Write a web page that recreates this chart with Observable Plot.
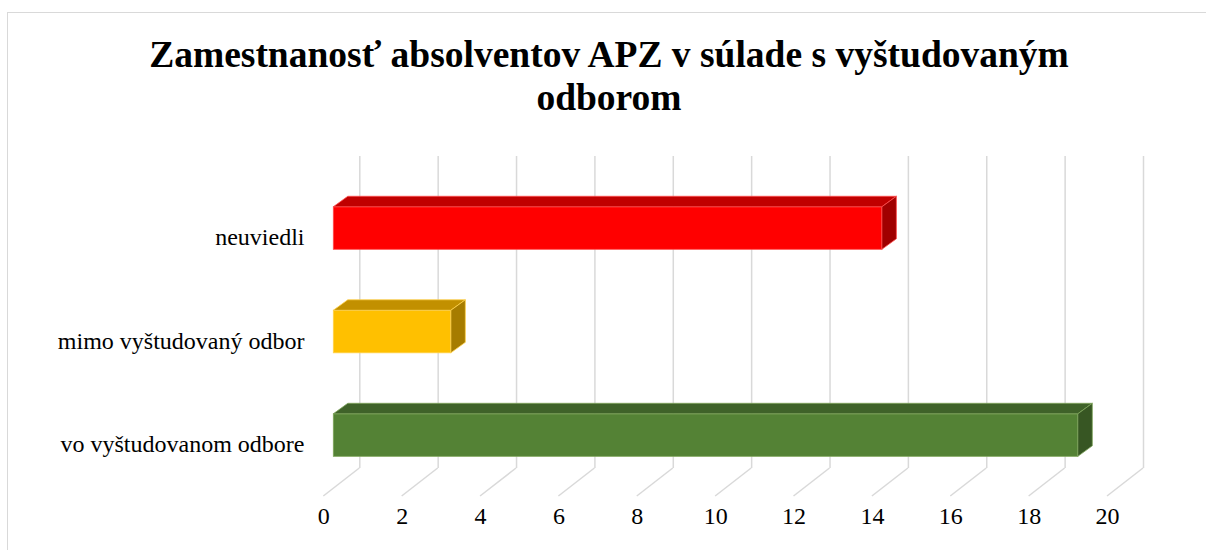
<!DOCTYPE html>
<html>
<head>
<meta charset="utf-8">
<script src="https://cdn.jsdelivr.net/npm/d3@7"></script>
<script src="https://cdn.jsdelivr.net/npm/@observablehq/plot@0.6"></script>
<style>
  html, body { margin: 0; padding: 0; background: #fff; width: 1206px; height: 550px; overflow: hidden; }
  #frame { position: absolute; left: 7px; top: 12px; width: 1220px; height: 560px; border: 1px solid #d9d9d9; box-sizing: border-box; }
  #title { position: absolute; left: 0; top: 33px; width: 1218px; text-align: center; font-family: "Liberation Serif", "Times New Roman", serif; font-weight: bold; font-size: 37.5px; line-height: 43px; color: #000; }
  #title span { display: inline-block; width: 960px; }
  #chart { position: absolute; left: 0; top: 140px; }
</style>
</head>
<body>
<div id="frame"></div>
<div id="title"><span></span></div>
<div id="chart"></div>
<script>
// ---- data ----
const titleText = "Zamestnanosť absolventov APZ v súlade s vyštudovaným odborom";
const categories = ["neuviedli", "mimo vyštudovaný odbor", "vo vyštudovanom odbore"];
const values = [14, 3, 19];
const frontColors = ["#FF0000", "#FFC000", "#548235"];
const topColors = ["#C00000", "#C29000", "#3F6229"];
const sideColors = ["#A00000", "#A67C00", "#375623"];
const edgeColors = ["#FF4D4D", "#FFD24D", "#7FA65C"];
const xTicks = [0, 2, 4, 6, 8, 10, 12, 14, 16, 18, 20];

document.querySelector("#title span").textContent = titleText;

const data = categories.map((c, i) => ({
  category: c, value: values[i],
  front: frontColors[i], top: topColors[i], side: sideColors[i], edge: edgeColors[i]
}));

// 3D styling offsets (pixels)
const BAR_DX = 10;     // bar front face offset from floor front
const DEPTH_X = 14.5;  // bar depth
const DEPTH_Y = 10.5;
const WALL_DX = 36;    // back wall offset
const FLOOR_BACK = 328, FLOOR_FRONT = 356;
const grid = "#d9d9d9";

function floorLines(index, {x}) {
  const g = d3.create("svg:g").attr("stroke", grid).attr("stroke-width", 1.5).attr("fill", "none");
  for (const t of xTicks) {
    g.append("line")
      .attr("x1", x(t) + WALL_DX).attr("y1", FLOOR_BACK)
      .attr("x2", x(t)).attr("y2", FLOOR_FRONT);
  }
  return g.node();
}

function barDepth(index, {x, y}) {
  const bw = typeof y.bandwidth === "function" ? y.bandwidth() : y.bandwidth;
  const g = d3.create("svg:g").attr("stroke-width", 0.8).attr("stroke-linejoin", "round");
  for (const d of data) {
    const x0 = x(0) + BAR_DX, x1 = x(d.value) + BAR_DX;
    const yt = y(d.category), yb = yt + bw;
    g.append("polygon")
      .attr("points", [[x0, yt], [x0 + DEPTH_X, yt - DEPTH_Y], [x1 + DEPTH_X, yt - DEPTH_Y], [x1, yt]].map(p => p.join(",")).join(" "))
      .attr("fill", d.top).attr("stroke", d.edge);
    g.append("polygon")
      .attr("points", [[x1, yt], [x1 + DEPTH_X, yt - DEPTH_Y], [x1 + DEPTH_X, yb - DEPTH_Y], [x1, yb]].map(p => p.join(",")).join(" "))
      .attr("fill", d.side).attr("stroke", d.edge);
  }
  return g.node();
}

const chart = Plot.plot({
  width: 1206,
  height: 410,
  marginTop: 16,
  marginBottom: 27,
  marginLeft: 304,
  marginRight: 0,
  x: { domain: [0, 20], range: [323.3, 1107], axis: null },
  y: { domain: categories, range: [5.8, 377.3], padding: 0.589, round: false, axis: null },
  style: { fontFamily: "'Liberation Serif', 'Times New Roman', serif", background: "transparent", overflow: "visible" },
  marks: [
    Plot.ruleX(xTicks, { x: d => d, dx: WALL_DX, stroke: grid, strokeWidth: 1.5, insetBottom: 55 }),
    floorLines,
    Plot.barX(data, { y: "category", x: "value", fill: "front", stroke: "edge", strokeWidth: 0.8, dx: BAR_DX }),
    barDepth,
    Plot.text(data, { y: "category", text: "category", frameAnchor: "left", textAnchor: "end", dy: 9, fontSize: 24, fontFamily: "Liberation Serif", fill: "#000" }),
    Plot.text(xTicks, { x: d => d, text: d => String(d), frameAnchor: "bottom", fontSize: 24, fontFamily: "Liberation Serif", fill: "#000" })
  ]
});
document.getElementById("chart").appendChild(chart);
</script>
</body>
</html>
